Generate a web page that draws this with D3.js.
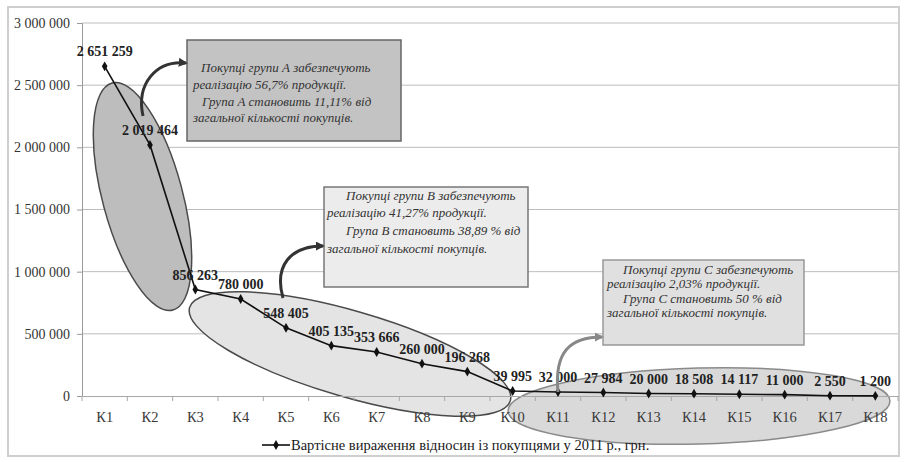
<!DOCTYPE html>
<html>
<head>
<meta charset="utf-8">
<script src="https://cdn.jsdelivr.net/npm/d3@7"></script>
<style>
  html, body { margin: 0; padding: 0; background: #ffffff; }
  svg { display: block; }
  svg text { font-family: "Liberation Serif", "DejaVu Serif", serif; }
</style>
</head>
<body>
<svg id="chart" width="904" height="462"></svg>
<script>
// ---------- DATA ----------
const categories = ["К1","К2","К3","К4","К5","К6","К7","К8","К9","К10","К11","К12","К13","К14","К15","К16","К17","К18"];
const values = [2651259, 2019464, 856263, 780000, 548405, 405135, 353666, 260000, 196268, 39995, 32000, 27984, 20000, 18508, 14117, 11000, 2550, 1200];
const yTickValues = [0, 500000, 1000000, 1500000, 2000000, 2500000, 3000000];
const seriesName = "Вартісне вираження відносин із покупцями у 2011 р., грн.";
const groupATexts = ["Покупці групи А забезпечують", "реалізацію 56,7% продукції.", "Група А становить 11,11% від", "загальної кількості покупців."];
const groupBTexts = ["Покупці групи В забезпечують", "реалізацію 41,27% продукції.", "Група В становить 38,89 % від", "загальної кількості покупців."];
const groupCTexts = ["Покупці групи С забезпечують", "реалізацію 2,03% продукції.", "Група С становить 50 % від", "загальної кількості покупців."];

// ---------- LAYOUT ----------
const svg = d3.select("#chart");
const plot = { left: 82, right: 898, top: 23, bottom: 396 };
const serif = "\"Liberation Serif\", \"DejaVu Serif\", serif";

const loc = d3.formatLocale({ decimal: ",", thousands: " ", grouping: [3], currency: ["", ""] });
const fmt = loc.format(",");

const x = d3.scaleBand().domain(categories).range([plot.left, plot.right]).paddingInner(0).paddingOuter(0);
const xc = c => x(c) + x.bandwidth() / 2;
const y = d3.scaleLinear().domain([0, 3000000]).range([plot.bottom, plot.top]);

// outer frame
svg.append("rect").attr("x", 8).attr("y", 7).attr("width", 891).attr("height", 449)
  .attr("fill", "#fff").attr("stroke", "#cfcfcf").attr("stroke-width", 2);

// gridlines
svg.append("g").selectAll("line").data(yTickValues.filter(d => d > 0)).join("line")
  .attr("x1", plot.left).attr("x2", plot.right)
  .attr("y1", d => y(d)).attr("y2", d => y(d))
  .attr("stroke", "#bdbdbd").attr("stroke-width", 1);

// ---------- ELLIPSES (annotations) ----------
const ellipses = [
  { cx: 142.5, cy: 196.5, rx: 117.5, ry: 40, rot: 75, fill: "#bdbdbd", stroke: "#4a4a4a" },
  { cx: 350, cy: 354, rx: 167, ry: 43, rot: 16.2, fill: "#e4e4e4", stroke: "#4a4a4a" },
  { cx: 699, cy: 406, rx: 191, ry: 38, rot: -1.5, fill: "#d9d9d9", stroke: "#8a8a8a" }
];
svg.append("g").selectAll("ellipse").data(ellipses).join("ellipse")
  .attr("cx", 0).attr("cy", 0)
  .attr("rx", d => d.rx).attr("ry", d => d.ry)
  .attr("transform", d => `translate(${d.cx},${d.cy}) rotate(${d.rot})`)
  .attr("fill", d => d.fill).attr("stroke", d => d.stroke).attr("stroke-width", 1.5);

// ---------- AXES ----------
const yAxis = d3.axisLeft(y).tickValues(yTickValues).tickFormat(fmt).tickSize(5).tickPadding(7);
const gy = svg.append("g").attr("transform", `translate(${plot.left},0)`).call(yAxis);
gy.attr("font-family", null);
gy.select(".domain").attr("stroke", "#9a9a9a");
gy.selectAll(".tick line").attr("stroke", "#9a9a9a");
gy.selectAll(".tick text").style("font-family", serif).style("font-size", "14px").attr("fill", "#333");

const xAxis = d3.axisBottom(x).tickSize(0).tickPadding(16);
const gx = svg.append("g").attr("transform", `translate(0,${plot.bottom})`).call(xAxis);
gx.attr("font-family", null);
gx.select(".domain").attr("stroke", "#a8a8a8");
gx.selectAll(".tick text").style("font-family", serif).style("font-size", "14.5px").attr("fill", "#3a3a3a");
// boundary ticks
const bounds = categories.map(c => x(c)).concat([plot.right]);
svg.append("g").selectAll("line").data(bounds).join("line")
  .attr("x1", d => d).attr("x2", d => d)
  .attr("y1", plot.bottom).attr("y2", plot.bottom + 5)
  .attr("stroke", "#a8a8a8");

// ---------- SERIES ----------
const pts = categories.map((c, i) => ({ c, v: values[i] }));
svg.append("path").datum(pts)
  .attr("d", d3.line().x(d => xc(d.c)).y(d => y(d.v)))
  .attr("fill", "none").attr("stroke", "#111").attr("stroke-width", 1.6);
svg.append("g").selectAll("path").data(pts).join("path")
  .attr("d", d3.symbol().type(d3.symbolDiamond).size(28))
  .attr("transform", d => `translate(${xc(d.c)},${y(d.v)})`)
  .attr("fill", "#111");
svg.append("g").selectAll("text").data(pts).join("text")
  .attr("x", d => xc(d.c)).attr("y", d => y(d.v) - 10)
  .attr("text-anchor", "middle")
  .style("font-family", serif).style("font-size", "14px").style("font-weight", "bold")
  .attr("fill", "#222")
  .text(d => fmt(d.v));

// ---------- CALLOUT BOXES ----------
const boxes = [
  { x: 187, y: 40, w: 214, h: 101, fill: "#c3c3c3", stroke: "#666", lines: groupATexts,
    tx: [201, 193, 202, 193], ty: [72, 89, 106, 122] },
  { x: 324, y: 187, w: 204, h: 100, fill: "#ececec", stroke: "#777", lines: groupBTexts,
    tx: [346, 327, 346, 327], ty: [200, 217, 235, 253] },
  { x: 603, y: 260, w: 201, h: 85, fill: "#e0e0e0", stroke: "#999", lines: groupCTexts,
    tx: [623, 607, 623, 607], ty: [274, 288, 303, 317] }
];
const gb = svg.append("g").selectAll("g").data(boxes).join("g");
gb.append("rect").attr("x", d => d.x).attr("y", d => d.y).attr("width", d => d.w).attr("height", d => d.h)
  .attr("fill", d => d.fill).attr("stroke", d => d.stroke).attr("stroke-width", 1.5);
gb.each(function(d) {
  d3.select(this).selectAll("text").data(d.lines).join("text")
    .attr("x", (t, i) => d.tx[i]).attr("y", (t, i) => d.ty[i])
    .style("font-family", serif).style("font-size", "13px").style("font-style", "italic")
    .attr("fill", "#333")
    .text(t => t);
});

// ---------- ARROWS ----------
const defs = svg.append("defs");
[["arrDark", "#333"], ["arrGray", "#888"]].forEach(([id, col]) => {
  defs.append("marker").attr("id", id).attr("viewBox", "0 0 10 10")
    .attr("refX", 8).attr("refY", 5).attr("markerWidth", 3).attr("markerHeight", 3)
    .attr("orient", "auto")
    .append("path").attr("d", "M0,0 L10,5 L0,10 z").attr("fill", col);
});
const arrows = [
  { d: "M143,116 C136,84 156,60 186,63", col: "#333", m: "arrDark" },
  { d: "M283,298 C274,266 290,246 323,246", col: "#333", m: "arrDark" },
  { d: "M558,392 C554,352 570,337 602,337", col: "#888", m: "arrGray" }
];
svg.append("g").selectAll("path").data(arrows).join("path")
  .attr("d", d => d.d).attr("fill", "none").attr("stroke", d => d.col).attr("stroke-width", 3)
  .attr("marker-end", d => `url(#${d.m})`);

// ---------- LEGEND ----------
const lg = svg.append("g").attr("transform", "translate(262,445)");
lg.append("line").attr("x1", 0).attr("x2", 28).attr("y1", 0).attr("y2", 0).attr("stroke", "#111").attr("stroke-width", 1.6);
lg.append("path").attr("d", d3.symbol().type(d3.symbolDiamond).size(28)).attr("transform", "translate(14,0)").attr("fill", "#111");
lg.append("text").attr("x", 29).attr("y", 5)
  .style("font-family", serif).style("font-size", "14.5px").attr("fill", "#1a1a1a")
  .text(seriesName);
</script>
</body>
</html>
